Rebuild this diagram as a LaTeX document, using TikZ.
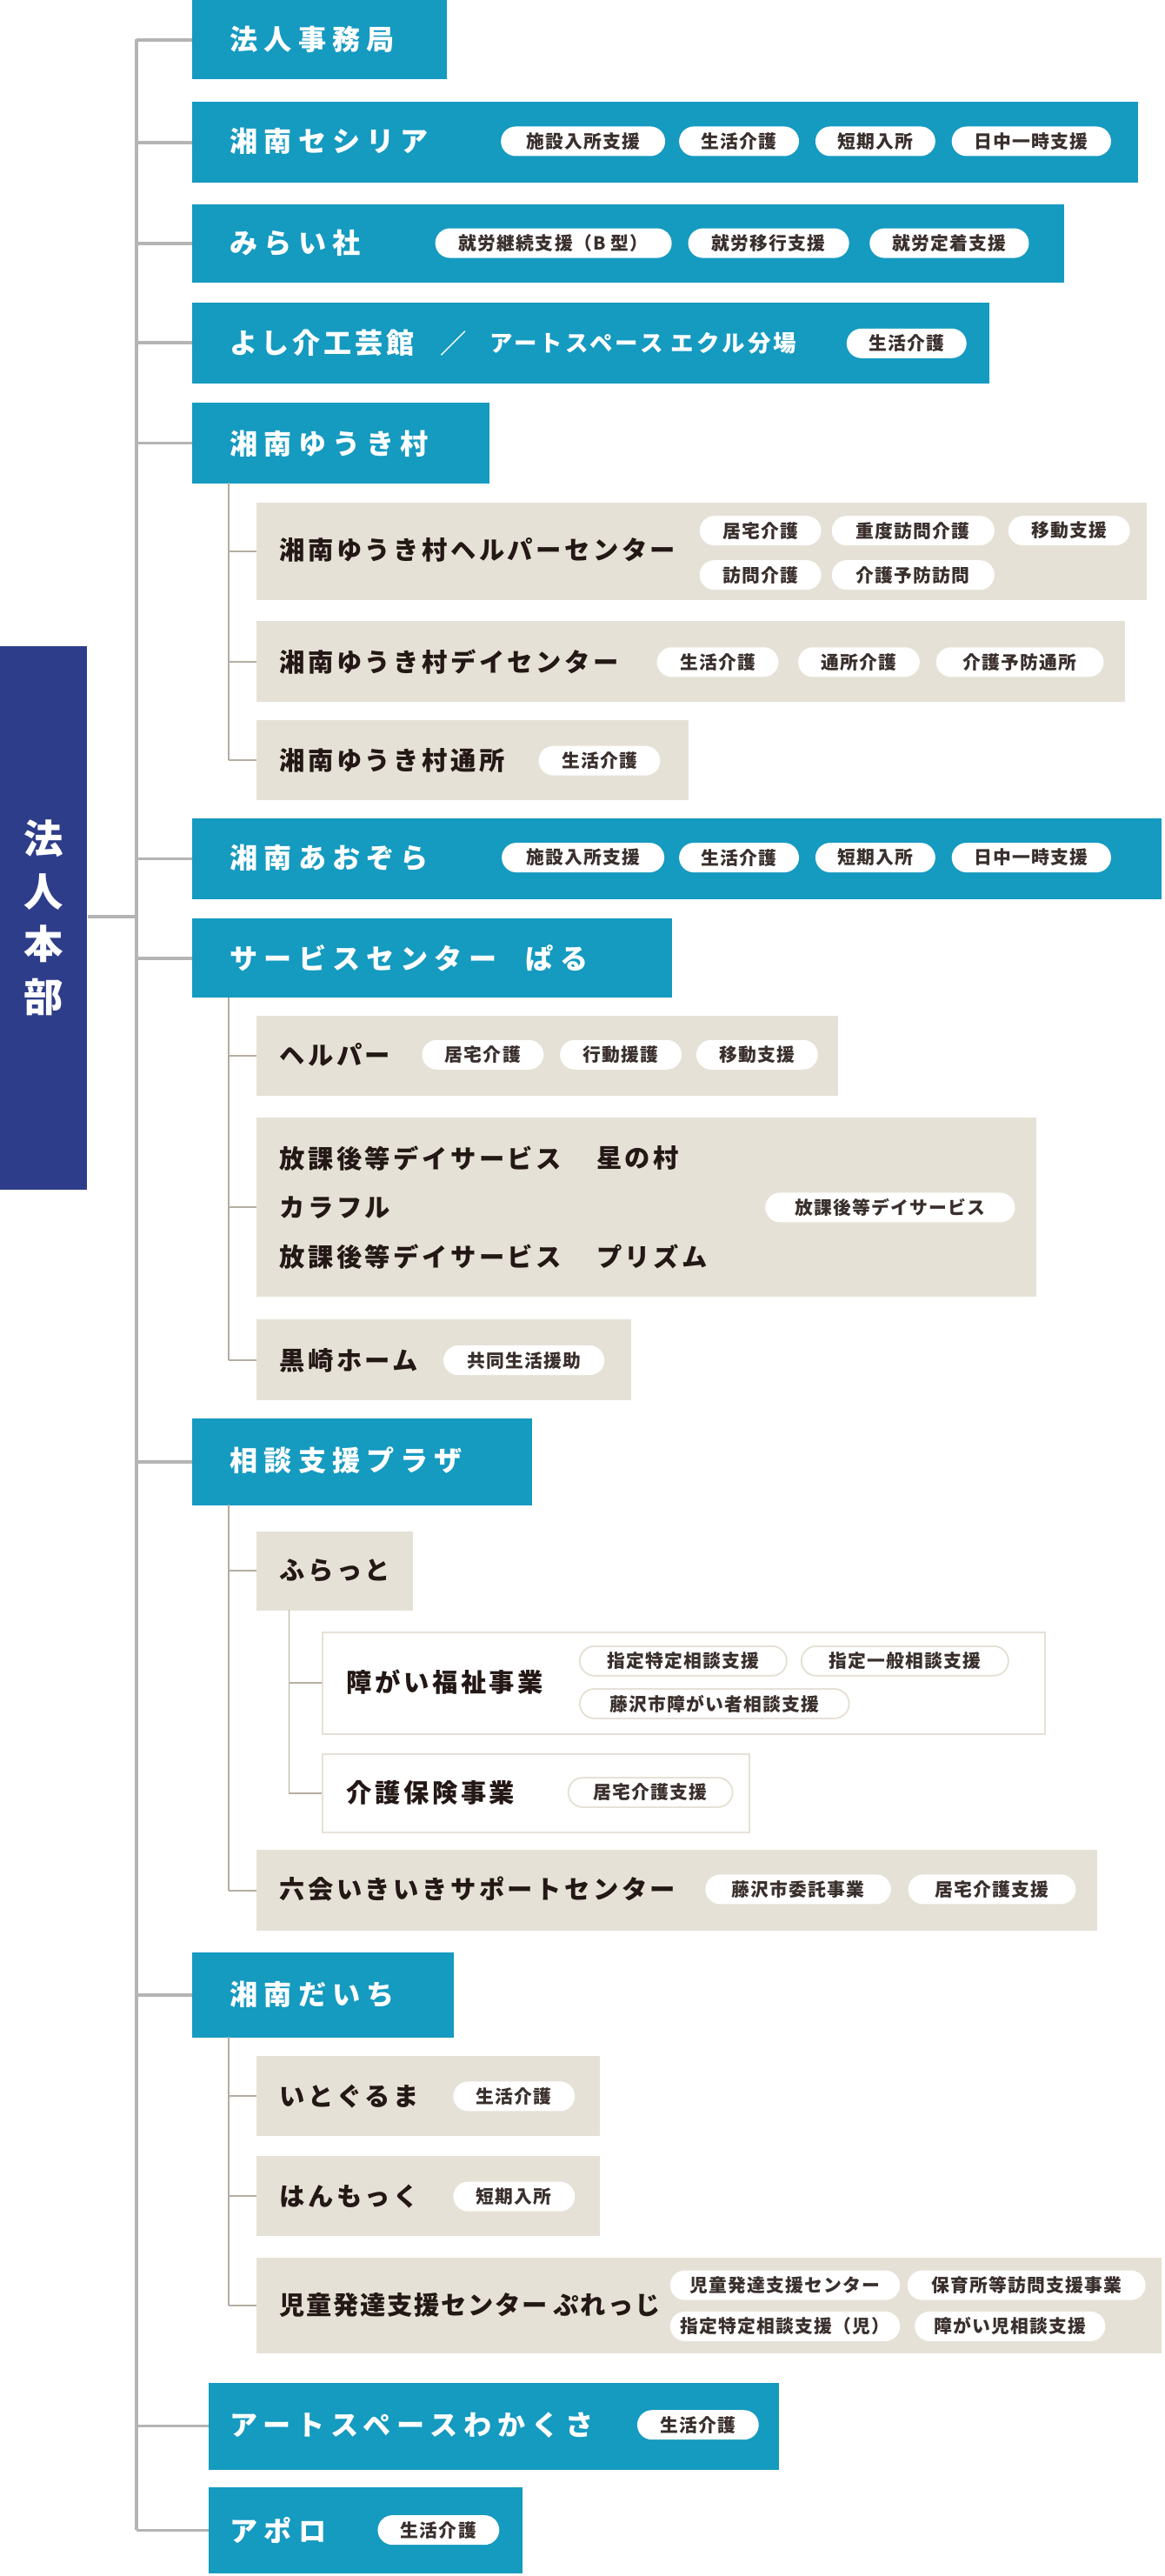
\documentclass[tikz,border=0pt]{standalone}
\usepackage{fontspec}
\newfontfamily\jp{Noto Sans CJK JP}
\newfontfamily\jpw{Noto Sans CJK JP}[LetterSpace=22]
\newfontfamily\jpm{Noto Sans CJK JP}[LetterSpace=12]
\newfontfamily\jpt{Noto Sans CJK JP}[LetterSpace=6]
\definecolor{blueC}{HTML}{159AC0}
\definecolor{navy}{HTML}{2E3D8A}
\definecolor{beige}{HTML}{E6E1D6}
\definecolor{ink}{HTML}{231815}
\definecolor{trunkC}{HTML}{B4B4B4}
\definecolor{subC}{HTML}{B5ADA0}
\tikzset{
 bluebox/.style={fill=blueC,draw=none,anchor=north west,inner sep=0pt},
 beigebox/.style={fill=beige,draw=none,anchor=north west,inner sep=0pt},
 whitebox/.style={fill=white,draw=beige,line width=1pt,anchor=north west,inner sep=0pt},
 bluetxt/.style={text=white,anchor=west,inner sep=0pt,font=\jpw\bfseries\fontsize{17}{17}\selectfont},
 darktxt/.style={text=ink,anchor=west,inner sep=0pt,font=\jpm\bfseries\fontsize{15.5}{15.5}\selectfont},
 tag/.style={fill=white,rounded corners=9pt,minimum height=18pt,inner xsep=0pt,inner ysep=0pt,text=ink!90,font=\jpt\bfseries\fontsize{11}{11}\selectfont},
 btag/.style={tag,draw=beige,line width=1pt},
 trunk/.style={draw=trunkC,line width=2pt},
 sub/.style={draw=subC,line width=1pt},
}
\newcommand\BX[7]{\node[#6,minimum width=#4pt-#2pt,minimum height=#5pt-#3pt] (#1) at (#2,#3) {};#7}
\begin{document}
\begin{tikzpicture}[x=1pt,y=-1pt]
\useasboundingbox (0,0) rectangle (709,1568);
% head
\node[fill=navy,anchor=north west,minimum width=53pt,minimum height=331pt,inner sep=0pt] (hq) at (0,393) {};
\node[text=white,font=\jp\bfseries\fontsize{24}{32}\selectfont,align=center] (hqt) at (hq.center) {法\\人\\本\\部};
% blue boxes
\BX{b1}{117}{0}{272}{48}{bluebox}{}
\node[bluetxt] (b1t) at (140,24) {法人事務局};
\BX{b2}{117}{62}{693}{111}{bluebox}{}
\node[bluetxt] (b2t) at (140,86) {湘南セシリア};
\node[tag,minimum width=100pt] (b2a) at (355,86) {施設入所支援};
\node[tag,minimum width=73pt] (b2b) at (450,86) {生活介護};
\node[tag,minimum width=73pt] (b2c) at (533,86) {短期入所};
\node[tag,minimum width=97pt] (b2d) at (628,86) {日中一時支援};
\BX{b3}{117}{124}{648}{172}{bluebox}{}
\node[bluetxt] (b3t) at (140,148) {みらい社};
\node[tag,minimum width=144pt] (b3a) at (337,148) {就労継続支援（B 型）};
\node[tag,minimum width=98pt] (b3b) at (468,148) {就労移行支援};
\node[tag,minimum width=97pt] (b3c) at (578,148) {就労定着支援};
\BX{b4}{117}{184}{602}{233}{bluebox}{}
\node[bluetxt] (b4t1) at (140,209) {\jpm\bfseries\fontsize{17}{17}\selectfont よし介工芸館};
\node[bluetxt] (b4t2) at (268,209) {\jp\fontsize{16}{16}\selectfont ／};
\node[bluetxt] (b4t3) at (298,209) {\jpm\bfseries\fontsize{14}{14}\selectfont アートスペース エクル分場};
\node[tag,minimum width=73pt] (b4a) at (552,209) {生活介護};
\BX{b5}{117}{245}{298}{294}{bluebox}{}
\node[bluetxt] (b5t) at (140,270) {湘南ゆうき村};
\BX{s51}{156}{306}{698}{365}{beigebox}{}
\node[darktxt] (s51t) at (170,335) {湘南ゆうき村ヘルパーセンター};
\node[tag,minimum width=74pt] (s51a) at (463,323) {居宅介護};
\node[tag,minimum width=99pt] (s51b) at (556,323) {重度訪問介護};
\node[tag,minimum width=74pt] (s51c) at (651,323) {移動支援};
\node[tag,minimum width=74pt] (s51d) at (463,350) {訪問介護};
\node[tag,minimum width=99pt] (s51e) at (556,350) {介護予防訪問};
\BX{s52}{156}{378}{685}{427}{beigebox}{}
\node[darktxt] (s52t) at (170,403) {湘南ゆうき村デイセンター};
\node[tag,minimum width=74pt] (s52a) at (437,403) {生活介護};
\node[tag,minimum width=74pt] (s52b) at (523,403) {通所介護};
\node[tag,minimum width=102pt] (s52c) at (621,403) {介護予防通所};
\BX{s53}{156}{438}{419}{487}{beigebox}{}
\node[darktxt] (s53t) at (170,463) {湘南ゆうき村通所};
\node[tag,minimum width=74pt] (s53a) at (365,463) {生活介護};
\BX{b6}{117}{498}{707}{547}{bluebox}{}
\node[bluetxt] (b6t) at (140,522) {湘南あおぞら};
\node[tag,minimum width=99pt] (b6a) at (355,522) {施設入所支援};
\node[tag,minimum width=73pt] (b6b) at (450,522) {生活介護};
\node[tag,minimum width=73pt] (b6c) at (533,522) {短期入所};
\node[tag,minimum width=97pt] (b6d) at (628,522) {日中一時支援};
\BX{b7}{117}{559}{409}{607}{bluebox}{}
\node[bluetxt] (b7t) at (140,583) {サービスセンター};
\node[bluetxt] (b7u) at (320,583) {ぱる};
\BX{s71}{156}{618}{510}{667}{beigebox}{}
\node[darktxt] (s71t) at (170,642) {ヘルパー};
\node[tag,minimum width=74pt] (s71a) at (294,642) {居宅介護};
\node[tag,minimum width=74pt] (s71b) at (378,642) {行動援護};
\node[tag,minimum width=74pt] (s71c) at (461,642) {移動支援};
\BX{s72}{156}{680}{631}{789}{beigebox}{}
\node[darktxt] (s72t1) at (170,705) {放課後等デイサービス};
\node[darktxt] (s72u1) at (363,705) {星の村};
\node[darktxt] (s72t2) at (170,735) {カラフル};
\node[darktxt] (s72t3) at (170,765) {放課後等デイサービス};
\node[darktxt] (s72u3) at (363,765) {プリズム};
\node[tag,minimum width=152pt] (s72a) at (542,735) {放課後等デイサービス};
\BX{s73}{156}{803}{384}{852}{beigebox}{}
\node[darktxt] (s73t) at (170,828) {黒崎ホーム};
\node[tag,minimum width=98pt] (s73a) at (319,828) {共同生活援助};
\BX{b8}{117}{863}{324}{916}{bluebox}{}
\node[bluetxt] (b8t) at (140,889) {相談支援プラザ};
\BX{s81}{156}{932}{251}{980}{beigebox}{}
\node[darktxt] (s81t) at (170,956) {ふらっと};
\BX{s811}{196}{993}{636}{1055}{whitebox}{}
\node[darktxt] (s811t) at (211,1024) {障がい福祉事業};
\node[btag,minimum width=126pt] (s811a) at (416,1011) {指定特定相談支援};
\node[btag,minimum width=126pt] (s811b) at (551,1011) {指定一般相談支援};
\node[btag,minimum width=164pt] (s811c) at (435,1037) {藤沢市障がい者相談支援};
\BX{s812}{196}{1067}{456}{1115}{whitebox}{}
\node[darktxt] (s812t) at (211,1091) {介護保険事業};
\node[btag,minimum width=100pt] (s812a) at (396,1091) {居宅介護支援};
\BX{s82}{156}{1126}{668}{1175}{beigebox}{}
\node[darktxt] (s82t) at (170,1150) {六会いきいきサポートセンター};
\node[tag,minimum width=113pt] (s82a) at (486,1150) {藤沢市委託事業};
\node[tag,minimum width=102pt] (s82b) at (604,1150) {居宅介護支援};
\BX{b9}{117}{1188}{276}{1240}{bluebox}{}
\node[bluetxt] (b9t) at (140,1214) {湘南だいち};
\BX{s91}{156}{1251}{365}{1300}{beigebox}{}
\node[darktxt] (s91t) at (170,1276) {いとぐるま};
\node[tag,minimum width=74pt] (s91a) at (313,1276) {生活介護};
\BX{s92}{156}{1312}{365}{1361}{beigebox}{}
\node[darktxt] (s92t) at (170,1337) {はんもっく};
\node[tag,minimum width=74pt] (s92a) at (313,1337) {短期入所};
\BX{s93}{156}{1374}{707}{1432}{beigebox}{}
\node[darktxt,font=\jpt\bfseries\fontsize{15.5}{15.5}\selectfont] (s93t) at (170,1403) {児童発達支援センター};
\node[darktxt,font=\jpt\bfseries\fontsize{15.5}{15.5}\selectfont] (s93u) at (337,1403) {ぷれっじ};
\node[tag,minimum width=140pt] (s93a) at (478,1391) {児童発達支援センター};
\node[tag,minimum width=145pt] (s93b) at (625,1391) {保育所等訪問支援事業};
\node[tag,minimum width=140pt] (s93c) at (478,1416) {指定特定相談支援（児）};
\node[tag,minimum width=116pt] (s93d) at (615,1416) {障がい児相談支援};
\BX{b10}{127}{1450}{474}{1503}{bluebox}{}
\node[bluetxt] (b10t) at (140,1476) {アートスペースわかくさ};
\node[tag,minimum width=74pt] (b10a) at (425,1476) {生活介護};
\BX{b11}{127}{1514}{318}{1566}{bluebox}{}
\node[bluetxt] (b11t) at (140,1540) {アポロ};
\node[tag,minimum width=74pt] (b11a) at (267,1540) {生活介護};
% trunk
\coordinate (ttop) at (83,24);
\coordinate (tbot) at (83,1540);
\coordinate (thq) at (83,558);
\draw[trunk] (ttop) -- (tbot);
\draw[trunk] (hq.east |- thq) -- (thq);
\foreach \n in {b1,b2,b3,b4,b5,b6,b7,b8,b9,b10,b11}{\draw[trunk] (ttop |- \n.west) -- (\n.west);}
% sub trees
\coordinate (v5) at (139,294);
\draw[sub] (v5) -- (v5 |- s53.west);
\foreach \n in {s51,s52,s53}{\draw[sub] (v5 |- \n.west) -- (\n.west);}
\coordinate (v7) at (139,607);
\draw[sub] (v7) -- (v7 |- s73.west);
\foreach \n in {s71,s72,s73}{\draw[sub] (v7 |- \n.west) -- (\n.west);}
\coordinate (v8) at (139,916);
\draw[sub] (v8) -- (v8 |- s82.west);
\foreach \n in {s81,s82}{\draw[sub] (v8 |- \n.west) -- (\n.west);}
\coordinate (v81) at (176,980);
\draw[sub] (v81) -- (v81 |- s812.west);
\foreach \n in {s811,s812}{\draw[sub] (v81 |- \n.west) -- (\n.west);}
\coordinate (v9) at (139,1240);
\draw[sub] (v9) -- (v9 |- s93.west);
\foreach \n in {s91,s92,s93}{\draw[sub] (v9 |- \n.west) -- (\n.west);}
\end{tikzpicture}
\end{document}
